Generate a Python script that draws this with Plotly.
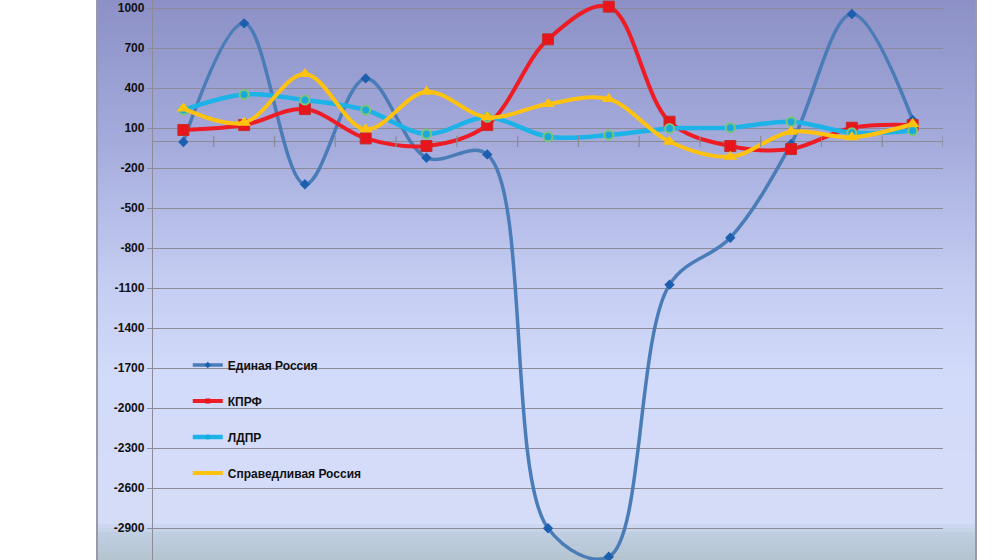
import plotly.graph_objects as go

# 13 periods, no axis labels shown on the chart
periods = list(range(1, 14))

edinaya = [-5, 885, -322, 472, -123, -98, -2902, -3116, -1075, -723, -20, 955, 160]
kprf = [85, 122, 242, 22, -35, 122, 765, 1010, 147, -35, -58, 102, 122]
ldpr = [235, 352, 310, 235, 55, 180, 35, 47, 97, 102, 147, 65, 80]
spravedlivaya = [247, 140, 505, 90, 372, 180, 280, 317, -3, -115, 72, 30, 130]

y_ticks = [1000, 700, 400, 100, -200, -500, -800, -1100, -1400, -1700,
           -2000, -2300, -2600, -2900]

fig = go.Figure()

# background gradient of the chart area, drawn as thin bands
stops = [(0, (140, 144, 198)), (140, (164, 171, 219)), (280, (196, 204, 242)),
         (380, (211, 219, 250)), (522, (212, 220, 248)), (534, (192, 206, 226)),
         (560, (180, 196, 206))]

def col_at(py):
    for (a, ca), (b, cb) in zip(stops, stops[1:]):
        if a <= py <= b:
            t = (py - a) / (b - a)
            c = [round(ca[i] + (cb[i] - ca[i]) * t) for i in range(3)]
            return "rgb(%d,%d,%d)" % tuple(c)
    return "rgb(180,196,206)"

H = 560
step = 4
shapes = []
x0p, x1p = (97 - 153) / 790, (976 - 153) / 790
for py in range(0, H, step):
    shapes.append(dict(type="rect", xref="paper", yref="paper",
                       x0=x0p, x1=x1p, y0=1 - (py + step) / H, y1=1 - py / H,
                       fillcolor=col_at(py + step / 2), line_width=0,
                       layer="below"))
for xp in (x0p, x1p):
    shapes.append(dict(type="line", xref="paper", yref="paper",
                       x0=xp, x1=xp, y0=0, y1=1,
                       line=dict(color="#9a9aa6", width=2), layer="below"))

series = [
    ("Единая Россия", edinaya, "#4a7cb8", 3.5,
     dict(symbol="diamond", size=8, color="#1d5fae")),
    ("КПРФ", kprf, "#ee1c24", 4,
     dict(symbol="square", size=11, color="#e8161c",
          line=dict(color="#c0302c", width=1))),
    ("ЛДПР", ldpr, "#1db2e8", 4.5,
     dict(symbol="circle", size=9, color="#1aa9dc",
          line=dict(color="#7cc47a", width=2))),
    ("Справедливая Россия", spravedlivaya, "#ffc20e", 4,
     dict(symbol="triangle-up", size=12, color="#ffc20e")),
]

for name, vals, color, w, marker in series:
    fig.add_trace(go.Scatter(
        x=periods, y=vals, name=name, legendgroup=name, showlegend=False,
        mode="lines+markers",
        line=dict(color=color, width=w, shape="spline", smoothing=1),
        marker=marker,
    ))
    # legend entry with the small markers of the original
    small = dict(marker)
    small["size"] = 5
    small.pop("line", None)
    fig.add_trace(go.Scatter(
        x=[None], y=[None], name=name, legendgroup=name,
        mode="lines+markers", line=dict(color=color, width=w),
        marker=small,
    ))

# tick marks crossing the horizontal axis at zero
bounds = [p + 0.5 for p in periods]
fig.add_trace(go.Scatter(
    x=bounds, y=[0] * len(bounds), mode="markers",
    marker=dict(symbol="line-ns", size=8,
                line=dict(color="#8a8a98", width=1.2)),
    showlegend=False, hoverinfo="skip",
))

fig.update_layout(
    width=1000, height=560,
    margin=dict(l=153, r=57, t=0, b=0),
    paper_bgcolor="white",
    plot_bgcolor="rgba(0,0,0,0)",
    shapes=shapes,
    showlegend=True,
    legend=dict(x=0.044, y=0.374, xanchor="left", yanchor="top",
                bgcolor="rgba(0,0,0,0)", tracegroupgap=17,
                font=dict(family="Liberation Sans", size=12,
                          color="#111111", weight="bold")),
    xaxis=dict(range=[0.5, 13.5], showticklabels=False, showgrid=False,
               zeroline=False, showline=False, ticks=""),
    yaxis=dict(range=[-3140, 1060], tickvals=y_ticks,
               ticktext=[str(v) for v in y_ticks],
               showgrid=True, gridcolor="#8c8c98", gridwidth=1.3,
               zeroline=True, zerolinecolor="#8c8c98", zerolinewidth=1.3,
               showline=True, linecolor="#8c8c98", linewidth=1.3,
               ticks="outside", ticklen=5, tickcolor="#8c8c98",
               tickfont=dict(family="Liberation Sans", size=12,
                             color="#111111", weight="bold")),
)

fig.write_html("out.html", config={"displayModeBar": False},
               post_script="document.body.style.margin='0';")
